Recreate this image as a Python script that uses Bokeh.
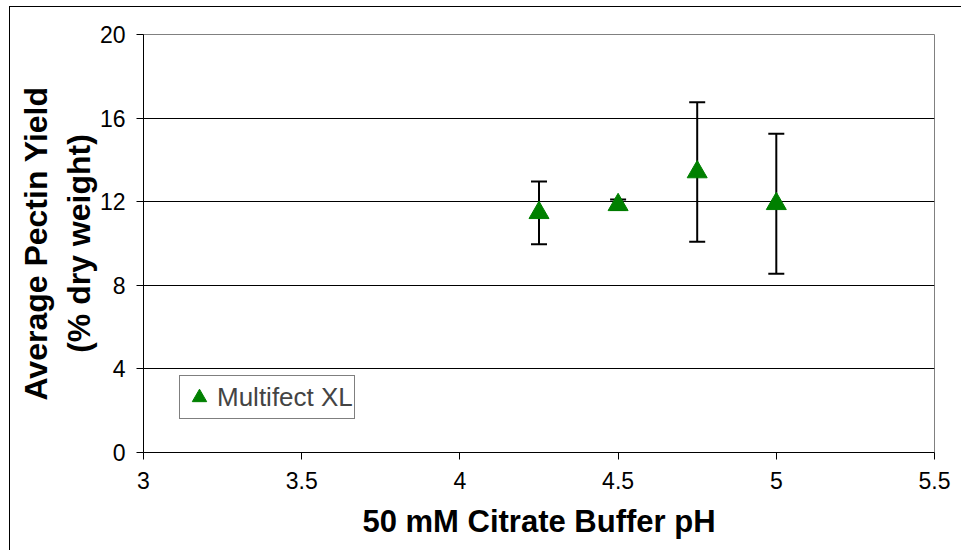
from bokeh.plotting import figure
from bokeh.models import ColumnDataSource, Whisker, TeeHead, Legend, LegendItem, FixedTicker, Range1d, Spacer
from bokeh.layouts import column, row
from bokeh.embed import file_html
from bokeh.resources import INLINE

ph = [4.25, 4.5, 4.75, 5.0]
yield_mean = [11.47, 11.85, 13.42, 11.9]
yield_err = [1.5, 0.25, 3.34, 3.35]
series_name = "Multifect XL"
x_ticks = [3, 3.5, 4, 4.5, 5, 5.5]
y_ticks = [0, 4, 8, 12, 16, 20]

src = ColumnDataSource(dict(
    x=ph, y=yield_mean,
    lo=[m - e for m, e in zip(yield_mean, yield_err)],
    hi=[m + e for m, e in zip(yield_mean, yield_err)],
))

FONT = "Liberation Sans"

p = figure(width=952, height=544, output_backend="svg", toolbar_location=None,
           x_range=Range1d(3, 5.5), y_range=Range1d(0, 20),
           min_border_left=133, min_border_top=27, min_border_right=28, min_border_bottom=99)
p.outline_line_color = "#808080"
p.outline_line_width = 1
p.background_fill_color = "white"
p.border_fill_color = "white"

p.xaxis.ticker = FixedTicker(ticks=x_ticks)
p.yaxis.ticker = FixedTicker(ticks=y_ticks)
p.xaxis.major_label_overrides = {3: "3", 3.5: "3.5", 4: "4", 4.5: "4.5", 5: "5", 5.5: "5.5"}
for ax in (p.xaxis, p.yaxis):
    ax.axis_line_color = "black"
    ax.axis_line_width = 1
    ax.major_tick_line_color = "black"
    ax.major_tick_in = 0
    ax.major_tick_out = 7
    ax.minor_tick_line_color = None
    ax.major_label_text_font = FONT
    ax.major_label_text_font_size = "23px"
    ax.major_label_text_color = "black"
    ax.axis_label_text_font = FONT
    ax.axis_label_text_font_style = "bold"
    ax.axis_label_text_color = "black"
p.xaxis.axis_label_text_font_size = "31px"
p.yaxis.axis_label_text_font_size = "32px"
p.yaxis.axis_label_text_line_height = 1.2
p.xaxis.major_label_standoff = 12
p.yaxis.major_label_standoff = 11
p.xaxis.axis_label = "50 mM Citrate Buffer pH"
p.xaxis.axis_label_standoff = 12
p.yaxis.axis_label = "Average Pectin Yield\n(% dry weight)"
p.yaxis.axis_label_standoff = 0

p.xgrid.grid_line_color = None
p.ygrid.grid_line_color = "black"
p.ygrid.grid_line_width = 1

w = Whisker(source=src, base="x", lower="lo", upper="hi", dimension="height",
            line_color="black", line_width=2,
            upper_head=TeeHead(size=16, line_color="black", line_width=2),
            lower_head=TeeHead(size=16, line_color="black", line_width=2))
p.add_layout(w)

r = p.scatter("x", "y", source=src, marker="triangle", size=20,
              fill_color="#008000", line_color="#008000")

legend = Legend(items=[LegendItem(label=series_name, renderers=[r])],
                location=(36, 33), border_line_color="black", border_line_width=1,
                label_text_font=FONT, label_text_font_size="26px",
                padding=1, spacing=0, margin=0, glyph_width=36, glyph_height=40,
                label_standoff=0, background_fill_color="white", background_fill_alpha=1)
p.add_layout(legend, "center")

layout = column(Spacer(height=6), row(Spacer(width=9), p))
p.styles = {"border-left": "1px solid black", "border-top": "1px solid black"}

open("out.html", "w").write(file_html(layout, INLINE))
